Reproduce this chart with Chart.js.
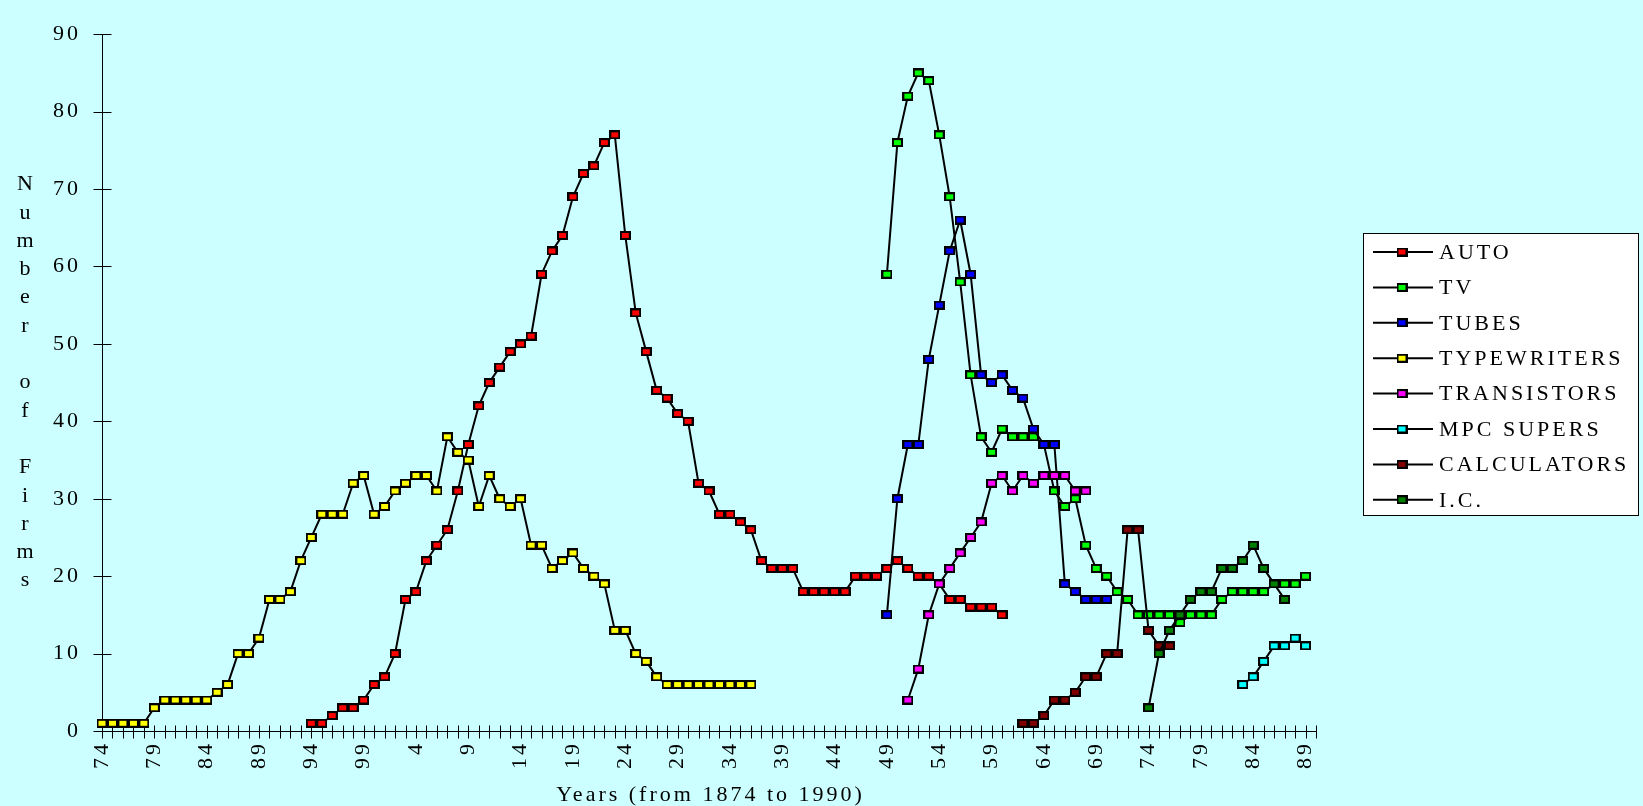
<!DOCTYPE html>
<html>
<head>
<meta charset="utf-8">
<title>Number of Firms</title>
<style>
  html, body { margin: 0; padding: 0; background: #ccffff; }
  canvas { display: block; }
</style>
</head>
<body>
<canvas id="firmsChart" width="1643" height="806"></canvas>
<script src="https://cdn.jsdelivr.net/npm/chart.js@4.4.1/dist/chart.umd.min.js"></script>
<script>
// years on the category axis
const firstYear = 1874;
const lastYear = 1990;
const years = [];
for (let y = firstYear; y <= lastYear; y++) years.push(y);

const yTicks = [0, 10, 20, 30, 40, 50, 60, 70, 80, 90];

// number of firms, each series starts at its own year
const autoStart = 1894;
const auto = [1, 1, 2, 3, 3, 4, 6, 7, 10, 17, 18, 22, 24, 26, 31, 37, 42, 45, 47, 49,
  50, 51, 59, 62, 64, 69, 72, 73, 76, 77, 64, 54, 49, 44, 43, 41, 40, 32, 31, 28,
  28, 27, 26, 22, 21, 21, 21, 18, 18, 18, 18, 18, 20, 20, 20, 21, 22, 21, 20, 20,
  19, 17, 17, 16, 16, 16, 15];

const tvStart = 1949;
const tv = [59, 76, 82, 85, 84, 77, 69, 58, 46, 38, 36, 39, 38, 38, 38, 37, 31, 29, 30, 24,
  21, 20, 18, 17, 15, 15, 15, 15, 14, 15, 15, 15, 17, 18, 18, 18, 18, 19, 19, 19, 20];

const tubesStart = 1949;
const tubes = [15, 30, 37, 37, 48, 55, 62, 66, 59, 46, 45, 46, 44, 43, 39, 37, 37, 19, 18, 17, 17, 17];

const typewritersStart = 1874;
const typewriters = [1, 1, 1, 1, 1, 3, 4, 4, 4, 4, 4, 5, 6, 10, 10, 12, 17, 17, 18, 22,
  25, 28, 28, 28, 32, 33, 28, 29, 31, 32, 33, 33, 31, 38, 36, 35, 29, 33, 30, 29,
  30, 24, 24, 21, 22, 23, 21, 20, 19, 13, 13, 10, 9, 7, 6, 6, 6, 6, 6, 6, 6, 6, 6];

const transistorsStart = 1951;
const transistors = [4, 8, 15, 19, 21, 23, 25, 27, 32, 33, 31, 33, 32, 33, 33, 33, 31, 31];

const mpcStart = 1983;
const mpcSupers = [6, 7, 9, 11, 11, 12, 11];

const calculatorsStart = 1962;
const calculators = [1, 1, 2, 4, 4, 5, 7, 7, 10, 10, 26, 26, 13, 11, 11];

const icStart = 1974;
const ic = [3, 10, 13, 15, 17, 18, 18, 21, 21, 22, 24, 21, 19, 17];

const seriesNames = ["AUTO", "TV", "TUBES", "TYPEWRITERS", "TRANSISTORS", "MPC SUPERS", "CALCULATORS", "I.C."];
const seriesStarts = [autoStart, tvStart, tubesStart, typewritersStart, transistorsStart, mpcStart, calculatorsStart, icStart];
const seriesValues = [auto, tv, tubes, typewriters, transistors, mpcSupers, calculators, ic];
const seriesColors = ["#ff0000", "#00ff00", "#0000ff", "#ffff00", "#ff00ff", "#00ffff", "#800000", "#008000"];

const FONT = "'Liberation Serif', 'Times New Roman', Times, serif";
const FONT_SIZE = 22;

function onYears(start, values) {
  return years.map(y => {
    const k = y - start;
    return k >= 0 && k < values.length ? values[k] : null;
  });
}

// small black-edged rectangle used as the point marker
function makeMarker(color) {
  const c = document.createElement("canvas");
  c.width = 11;
  c.height = 9;
  const g = c.getContext("2d");
  g.fillStyle = "#000";
  g.fillRect(0, 0, 11, 9);
  g.fillStyle = color;
  g.fillRect(2, 2, 7, 5);
  return c;
}

const markers = seriesColors.map(makeMarker);

const datasets = seriesNames.map((name, i) => ({
  label: name,
  data: onYears(seriesStarts[i], seriesValues[i]),
  borderColor: "#000",
  borderWidth: 2,
  backgroundColor: seriesColors[i],
  pointStyle: markers[i],
  pointRadius: 5,
  pointHoverRadius: 5,
  tension: 0,
  fill: false,
  clip: false,
  order: seriesNames.length - i // later series on top
}));

const decor = {
  id: "decor",
  beforeDraw(chart) {
    const ctx = chart.ctx;
    ctx.save();
    ctx.fillStyle = "#ccffff";
    ctx.fillRect(0, 0, chart.width, chart.height);
    ctx.restore();
    ctx.letterSpacing = "3px";
  },
  beforeDatasetsDraw(chart) {
    const { ctx, chartArea: a, scales: { x, y } } = chart;
    const ax = Math.round(a.left) + 0.5;
    const ay = Math.round(a.bottom) + 0.5;
    const lastX = x.getPixelForValue(years.length - 1);
    ctx.save();
    ctx.strokeStyle = "#000";
    ctx.lineWidth = 1;
    ctx.beginPath();
    ctx.moveTo(ax, Math.round(y.getPixelForValue(90)) + 0.5);
    ctx.lineTo(ax, ay);
    ctx.lineTo(Math.round(lastX) + 0.5, ay);
    yTicks.forEach(v => {
      const py = Math.round(y.getPixelForValue(v)) + 0.5;
      ctx.moveTo(ax - 9, py);
      ctx.lineTo(ax + 9, py);
    });
    years.forEach((yr, k) => {
      const px = Math.round(x.getPixelForValue(k)) + 0.5;
      ctx.moveTo(px, ay - 6);
      ctx.lineTo(px, ay + 7);
    });
    ctx.stroke();
    ctx.restore();
  },
  afterDraw(chart) {
    const { ctx, chartArea: a, scales: { x } } = chart;
    const lastX = x.getPixelForValue(years.length - 1);
    ctx.save();
    ctx.fillStyle = "#000";
    ctx.font = FONT_SIZE + "px " + FONT;

    // x axis title
    ctx.letterSpacing = "3px";
    ctx.textAlign = "center";
    ctx.textBaseline = "middle";
    ctx.fillText("Years (from 1874 to 1990)", (a.left + lastX) / 2 + 1.5, 795);

    // y axis title, one letter per row
    ctx.letterSpacing = "0px";
    const letters = "Number of Firms".split("");
    const step = 28.3;
    const midY = (a.top + a.bottom) / 2;
    letters.forEach((ch, k) => {
      if (ch === " ") return;
      ctx.fillText(ch, 25, midY + (k - (letters.length - 1) / 2) * step);
    });

    // legend
    const bx = 1363.5, by = 233.5, bw = 275, bh = 282;
    ctx.fillStyle = "#ffffff";
    ctx.fillRect(bx, by, bw, bh);
    ctx.strokeStyle = "#000";
    ctx.lineWidth = 1;
    ctx.strokeRect(bx, by, bw, bh);
    ctx.letterSpacing = "3px";
    ctx.textAlign = "left";
    chart.data.datasets.forEach((ds, k) => {
      const ly = 252 + k * 35.4;
      ctx.strokeStyle = "#000";
      ctx.lineWidth = 2;
      ctx.beginPath();
      ctx.moveTo(1373, ly);
      ctx.lineTo(1433, ly);
      ctx.stroke();
      ctx.drawImage(ds.pointStyle, 1402 - 5.5, ly - 4.5);
      ctx.fillStyle = "#000";
      ctx.fillText(ds.label, 1439, ly + 1);
    });
    ctx.restore();
  }
};

new Chart(document.getElementById("firmsChart"), {
  type: "line",
  data: { labels: years, datasets: datasets },
  plugins: [decor],
  options: {
    responsive: false,
    animation: false,
    devicePixelRatio: 1,
    events: [],
    layout: { padding: { left: 0, right: 327, top: 20, bottom: 0 } },
    plugins: {
      legend: { display: false },
      tooltip: { enabled: false },
      title: { display: false }
    },
    scales: {
      x: {
        type: "category",
        offset: false,
        grid: { display: false, drawTicks: false },
        border: { display: false },
        ticks: {
          autoSkip: false,
          minRotation: 90,
          maxRotation: 90,
          padding: 10,
          color: "#000",
          font: { family: FONT, size: FONT_SIZE },
          callback(value, index) {
            const yr = years[index];
            return (yr - firstYear) % 5 === 0 ? String(yr % 100) : "";
          }
        },
        afterFit(scale) { scale.height = 75; }
      },
      y: {
        min: 0,
        max: 90,
        grid: { display: false, drawTicks: false },
        border: { display: false },
        ticks: {
          stepSize: 10,
          padding: 21,
          color: "#000",
          font: { family: FONT, size: FONT_SIZE }
        },
        afterFit(scale) { scale.width = 102; }
      }
    }
  }
});
</script>
</body>
</html>
